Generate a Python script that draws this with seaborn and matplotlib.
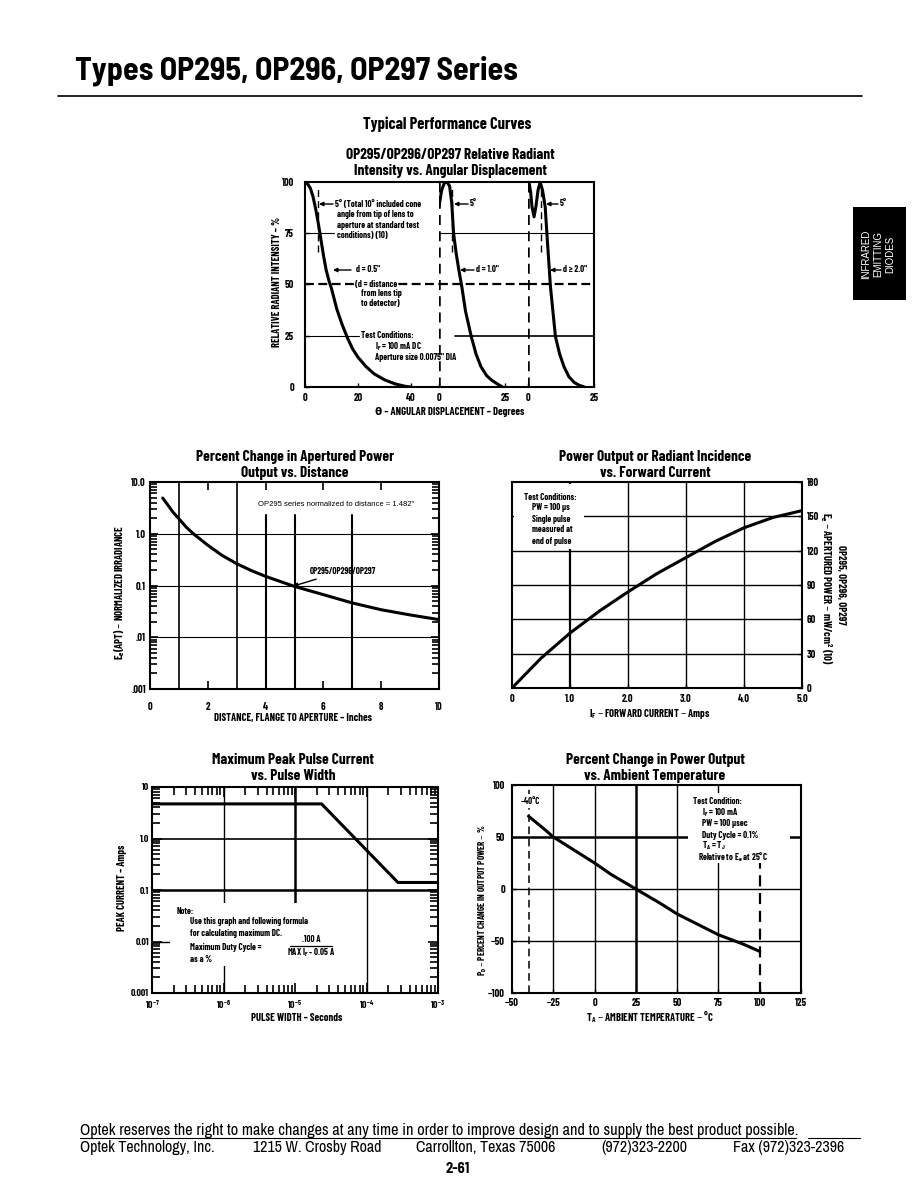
import numpy as np
import matplotlib
matplotlib.use("Agg")
import matplotlib.pyplot as plt
import seaborn as sns
from matplotlib.patches import Rectangle
from matplotlib.lines import Line2D
from matplotlib.ticker import LogLocator, NullFormatter

W, H = 918, 1188
FONT = ["Barlow Condensed", "DejaVu Sans"]
TITLE_FONT = ["Barlow Semi Condensed", "DejaVu Sans"]
FOOT_FONT = ["Archivo Narrow", "Liberation Sans", "DejaVu Sans"]
PLAIN = ["Liberation Sans", "DejaVu Sans"]

# relative radiant intensity vs angular displacement, one series per distance
angle_d05 = [0, 1, 2, 3, 4, 5, 6, 7, 8, 9, 10, 12, 14, 16, 18, 20, 23, 26, 30, 34, 38, 40]
intensity_d05 = [100, 99, 97, 93, 87, 80, 72, 64, 57, 52, 48, 38, 30.5, 24, 18.5, 14.5,
                 10, 6.5, 3.5, 1.5, 0.3, 0]
angle_d10 = [0, 1, 2, 3, 4, 4.8, 5.5, 6.5, 7.5, 8.6, 10, 12.2, 14, 15.8, 18, 20, 22, 24]
intensity_d10 = [88, 96, 99.5, 100, 98, 90, 75, 65, 57, 49, 37, 24.5, 16, 10, 5.5, 3.2, 1.5, 0]
angle_d20 = [0, 0.5, 1, 1.5, 2.3, 3, 3.8, 4.6, 5.5, 6.5, 7.2, 8.5, 10.4, 12, 13.6, 15.5,
             17.5, 19.5, 21.3]
intensity_d20 = [100, 99, 95, 88, 83, 88, 96, 100, 96, 88, 74, 49, 24.5, 16, 10, 5, 2.2, 0.8, 0]
CONE_HALF_ANGLE = 5

# normalized irradiance vs distance
distance_in = [0.44, 0.6, 0.8, 1.0, 1.25, 1.5, 2.0, 2.5, 3.0, 3.5, 4.0, 5.0, 6.0, 7.0, 8.0, 9.0, 10.0]
irradiance = [4.9, 3.7, 2.6, 1.95, 1.35, 1.0, 0.6, 0.38, 0.264, 0.195, 0.150, 0.096,
              0.0665, 0.046, 0.034, 0.027, 0.0219]

# apertured power vs forward current
forward_current = [0, 0.25, 0.5, 0.75, 1.0, 1.5, 2.0, 2.5, 3.0, 3.5, 4.0, 4.5, 5.0]
apertured_power = [0, 13, 26, 37, 48, 67, 84, 100, 114, 128, 140, 149, 155]

# maximum peak pulse current vs pulse width
pulse_width = [1e-7, 2.35e-5, 2.75e-4, 1e-3]
peak_current = [4.7, 4.7, 0.14, 0.14]

# percent change in output power vs ambient temperature
temperature = [-40, -30, -25, -10, 0, 10, 25, 40, 50, 60, 75, 90, 100]
power_change = [70, 57, 50, 35, 25, 14, 0, -14, -24, -32, -44, -53, -60]

sns.set_theme(style="ticks")
plt.rcParams["font.family"] = FONT
plt.rcParams["font.weight"] = "bold"
plt.rcParams["axes.labelweight"] = "bold"
plt.rcParams["mathtext.default"] = "regular"
for key in ["text.color", "axes.labelcolor", "xtick.color", "ytick.color", "axes.edgecolor"]:
    plt.rcParams[key] = "black"
plt.rcParams["axes.linewidth"] = 1.5

fig = plt.figure(figsize=(W / 100, H / 100), dpi=100)

TITLE_SIZE = 11
TICK_SIZE = 7.5
LABEL_SIZE = 7.6
NOTE_SIZE = 6.4


def rect(box):
    x0, y0, x1, y1 = box
    return [x0 / W, 1 - y1 / H, (x1 - x0) / W, (y1 - y0) / H]


def frac(box, x, y):
    x0, y0, x1, y1 = box
    return (x - x0) / (x1 - x0), (y1 - y) / (y1 - y0)


def ftext(x, y, s, size=NOTE_SIZE, **kw):
    kw.setdefault("va", "center")
    return fig.text(x / W, 1 - y / H, s, size=size, **kw)


def curve(ax, x, y):
    sns.lineplot(x=x, y=y, ax=ax, color="black", linewidth=2.2, errorbar=None)


def pointer(ax, x_from, x_to, y):
    ax.annotate("", xy=(x_to, H - y), xytext=(x_from, H - y), xycoords="figure pixels",
                arrowprops=dict(arrowstyle="-|>", color="black", lw=1, mutation_scale=6,
                                shrinkA=0, shrinkB=0), annotation_clip=False)


def set_labels(ax, box, xlabel, xpos, ylabel, ypos, size=LABEL_SIZE, ysize=None):
    ax.set_xlabel(xlabel, fontsize=size, va="center")
    ax.xaxis.set_label_coords(*frac(box, *xpos))
    ax.set_ylabel(ylabel, fontsize=ysize or size, va="center")
    ax.yaxis.set_label_coords(*frac(box, *ypos))


def white_box(ax, box, x0, y0, x1, y1):
    fx0, fy1 = frac(box, x0, y0)
    fx1, fy0 = frac(box, x1, y1)
    ax.add_patch(Rectangle((fx0, fy0), fx1 - fx0, fy1 - fy0, transform=ax.transAxes,
                           facecolor="white", edgecolor="none", zorder=2.5))


def chart_title(x, y, lines):
    for k, line in enumerate(lines):
        ftext(x, y + k * 16, line, size=TITLE_SIZE, ha="center")


def plot_angular():
    ftext(447, 124, "Typical Performance Curves", size=11.8, ha="center")
    chart_title(450, 155, ["OP295/OP296/OP297 Relative Radiant",
                           "Intensity vs. Angular Displacement"])
    deg_px = 2.65
    panels = [(305, 439, angle_d05, intensity_d05, [0, 20, 40]),
              (439, 528, angle_d10, intensity_d10, [0, 25]),
              (528, 594, angle_d20, intensity_d20, [0, 25])]
    axes = []
    for i, (x0, x1, ang, rel, xt) in enumerate(panels):
        box = (x0, 182, x1, 387)
        ax = fig.add_axes(rect(box))
        ax.set_facecolor("none")
        curve(ax, ang, rel)
        ax.set_xlim(0, (x1 - x0) / deg_px)
        ax.set_ylim(0, 100)
        ax.set_xticks(xt)
        ax.set_xticklabels([str(t) for t in xt])
        ax.tick_params(axis="x", direction="in", length=3, width=1, labelsize=TICK_SIZE, pad=4)
        ax.axhline(50, color="black", lw=1.6, ls=(0, (4, 2)))
        ax.axvline(CONE_HALF_ANGLE, ymin=0.66, ymax=0.97, color="black", lw=1, ls=(0, (5, 3)))
        if i == 0:
            ax.spines["right"].set_visible(False)
            ax.set_yticks([0, 25, 50, 75, 100])
            ax.tick_params(axis="y", direction="in", length=3, width=1, labelsize=TICK_SIZE,
                           pad=8)
            ax.axhline(75, xmax=0.22, color="black", lw=0.8)
            ax.axhline(25, xmax=0.4, color="black", lw=0.8)
            set_labels(ax, box, "θ – ANGULAR DISPLACEMENT – Degrees", (450, 412),
                       "RELATIVE RADIANT INTENSITY – %", (277, 282))
        else:
            ax.spines["left"].set_visible(False)
            if i == 1:
                ax.spines["right"].set_visible(False)
            ax.set_yticks([])
            ax.set_xlabel("")
            ax.set_ylabel("")
            ax.axvline(0, color="black", lw=1.8, ls=(0, (4, 2.5)))
            ax.axhline(75, color="black", lw=0.8)
            ax.axhline(25, xmin=0.18 if i == 1 else 0, color="black", lw=1.2)
        axes.append(ax)

    a0 = axes[0]
    pointer(a0, 333, 319, 204)
    note = ["5° (Total 10° included cone", "angle from tip of lens to",
            "aperture at standard test", "conditions) (10)"]
    for k, line in enumerate(note):
        ftext(335 if k == 0 else 337, 204 + k * 10.6, line, ha="left")
    pointer(a0, 351, 333, 270)
    ftext(356, 270, 'd = 0.5"', ha="left")
    ftext(355, 284, "(d = distance", ha="left",
          bbox=dict(facecolor="white", edgecolor="none", pad=0.8))
    ftext(361, 294, "from lens tip", ha="left")
    ftext(361, 304, "to detector)", ha="left")
    ftext(361, 336, "Test Conditions:", ha="left")
    ftext(375, 347, "I$_F$ = 100 mA DC", ha="left")
    ftext(375, 358, 'Aperture size 0.0075" DIA', ha="left")
    pointer(axes[1], 468, 454, 204)
    ftext(470, 204, "5°", ha="left")
    pointer(axes[1], 474, 460, 270)
    ftext(476, 270, 'd = 1.0"', ha="left")
    pointer(axes[2], 558, 546, 204)
    ftext(560, 204, "5°", ha="left")
    pointer(axes[2], 561, 550, 270)
    ftext(563, 270, 'd ≥ 2.0"', ha="left")


def plot_distance():
    box = (150, 482, 439, 689)
    chart_title(295, 457, ["Percent Change in Apertured Power", "Output vs. Distance"])
    ax = fig.add_axes(rect(box))
    curve(ax, distance_in, irradiance)
    ax.set_yscale("log")
    ax.set_xlim(0, 10)
    ax.set_ylim(0.001, 10)
    ax.set_xticks([0, 2, 4, 6, 8, 10])
    ax.set_xticklabels(["0", "2", "4", "6", "8", "10"])
    ax.set_yticks([0.001, 0.01, 0.1, 1, 10])
    ax.set_yticklabels([".001", ".01", "0.1", "1.0", "10.0"])
    ax.yaxis.set_minor_locator(LogLocator(subs=np.arange(2, 10)))
    ax.yaxis.set_minor_formatter(NullFormatter())
    for v in [1, 3]:
        ax.axvline(v, color="black", lw=1.2)
    for v in [4, 5, 7]:
        ax.axvline(v, ymax=0.84, color="black", lw=1.5)
    for v in [0.01, 0.1, 1]:
        ax.axhline(v, color="black", lw=0.8)
    ax.tick_params(which="both", direction="in", left=True, right=True, top=True,
                   bottom=True, labelsize=TICK_SIZE)
    ax.tick_params(which="major", length=6, width=1.2)
    ax.tick_params(which="minor", length=5, width=1.2)
    ax.tick_params(axis="x", pad=9)
    ax.tick_params(axis="y", pad=3)
    set_labels(ax, box, "DISTANCE, FLANGE TO APERTURE – Inches", (293, 718),
               "E$_e$(APT) – NORMALIZED IRRADIANCE", (120, 592))
    ftext(258, 505, 'OP295 series normalized to distance = 1.482"', size=5.5,
          ha="left", fontweight="normal", family=PLAIN)
    ax.annotate("OP295/OP296/OP297", xy=(4.95, 0.097), xytext=(310, H - 571),
                textcoords="figure pixels", fontsize=NOTE_SIZE, ha="left", va="center",
                arrowprops=dict(arrowstyle="-|>", color="black", lw=1, mutation_scale=6,
                                shrinkA=1, shrinkB=0))


def plot_current():
    box = (512, 482, 802, 688)
    chart_title(655, 457, ["Power Output or Radiant Incidence", "vs. Forward Current"])
    ax = fig.add_axes(rect(box))
    curve(ax, forward_current, apertured_power)
    ax.set_xlim(0, 5)
    ax.set_ylim(0, 180)
    ax.set_xticks([0, 1, 2, 3, 4, 5])
    ax.set_xticklabels(["0", "1.0", "2.0", "3.0", "4.0", "5.0"])
    ax.yaxis.tick_right()
    ax.set_yticks([0, 30, 60, 90, 120, 150, 180])
    ax.axvline(1, color="black", lw=1.6)
    for v in [2, 3, 4]:
        ax.axvline(v, color="black", lw=1)
    for v in [30, 60, 90, 120, 150]:
        ax.axhline(v, color="black", lw=1)
    white_box(ax, box, 514, 484, 584, 549)
    ax.tick_params(direction="in", length=3, width=1, labelsize=TICK_SIZE)
    ax.tick_params(axis="x", pad=4.5)
    ax.tick_params(axis="y", pad=3.4)
    ax.yaxis.set_label_position("right")
    ax.set_xlabel("I$_F$ – FORWARD CURRENT – Amps", fontsize=LABEL_SIZE, va="center")
    ax.xaxis.set_label_coords(*frac(box, 650, 714))
    ax.set_ylabel("E$_e$ – APERTURED POWER – mW/cm$^2$ (10)", fontsize=LABEL_SIZE,
                  rotation=270, va="center")
    ax.yaxis.set_label_coords(*frac(box, 826, 588))
    ftext(841, 585, "OP295, OP296, OP297", size=LABEL_SIZE, rotation=270, ha="center")
    ftext(524, 497, "Test Conditions:", ha="left")
    for k, line in enumerate(["PW = 100 µs", "Single pulse", "measured at", "end of pulse"]):
        ftext(532, 508 + k * 11, line, ha="left")


def plot_pulse():
    box = (152, 787, 438, 993)
    chart_title(293, 760, ["Maximum Peak Pulse Current", "vs. Pulse Width"])
    ax = fig.add_axes(rect(box))
    curve(ax, pulse_width, peak_current)
    ax.set_xscale("log")
    ax.set_yscale("log")
    ax.set_xlim(1e-7, 1e-3)
    ax.set_ylim(1e-3, 10)
    ax.set_xticks([1e-7, 1e-6, 1e-5, 1e-4, 1e-3])
    ax.set_xticklabels(["10$^{-7}$", "10$^{-6}$", "10$^{-5}$", "10$^{-4}$", "10$^{-3}$"])
    ax.set_yticks([1e-3, 1e-2, 1e-1, 1, 10])
    ax.set_yticklabels(["0.001", "0.01", "0.1", "1.0", "10"])
    for axis in [ax.xaxis, ax.yaxis]:
        axis.set_minor_locator(LogLocator(subs=np.arange(2, 10)))
        axis.set_minor_formatter(NullFormatter())
    ax.axvline(1e-6, color="black", lw=1)
    ax.axvline(1e-5, ymin=0.39, color="black", lw=1.8)
    ax.axvline(1e-4, color="black", lw=1)
    ax.axhline(1, color="black", lw=1.2)
    ax.axhline(0.1, color="black", lw=1.8)
    ax.axhline(0.01, xmax=0.08, color="black", lw=1)
    white_box(ax, box, 170, 903, 345, 966)
    ax.tick_params(which="both", direction="in", left=True, right=True, top=True,
                   bottom=True, labelsize=TICK_SIZE - 0.5)
    ax.tick_params(which="major", length=7, width=1.2)
    ax.tick_params(which="minor", length=6, width=1.2)
    ax.tick_params(axis="x", pad=3.6)
    ax.tick_params(axis="y", pad=2)
    set_labels(ax, box, "PULSE WIDTH – Seconds", (297, 1018),
               "PEAK CURRENT – Amps", (122, 888))
    ftext(177, 911, "Note:", ha="left")
    ftext(190, 922, "Use this graph and following formula", ha="left")
    ftext(190, 933, "for calculating maximum DC.", ha="left")
    ftext(190, 947, "Maximum Duty Cycle =", ha="left")
    ftext(311, 940, ".100 A", ha="center")
    fig.add_artist(Line2D([290 / W, 332 / W], [1 - 946 / H] * 2, color="black", lw=0.9))
    ftext(311, 953, "MAX I$_F$ - 0.05 A", ha="center")
    ftext(190, 959, "as a %", ha="left")


def plot_temperature():
    box = (512, 785, 801, 993)
    chart_title(655, 760, ["Percent Change in Power Output", "vs. Ambient Temperature"])
    ax = fig.add_axes(rect(box))
    curve(ax, temperature, power_change)
    ax.set_xlim(-50, 125)
    ax.set_ylim(-100, 100)
    xt = [-50, -25, 0, 25, 50, 75, 100, 125]
    ax.set_xticks(xt)
    ax.set_xticklabels([str(t).replace("-", "−") for t in xt])
    yt = [-100, -50, 0, 50, 100]
    ax.set_yticks(yt)
    ax.set_yticklabels([str(t).replace("-", "−") for t in yt])
    for v in [-25, 0, 50, 75]:
        ax.axvline(v, color="black", lw=1)
    ax.axvline(25, color="black", lw=1.8)
    ax.axhline(0, color="black", lw=1)
    ax.axhline(-50, color="black", lw=1)
    ax.axhline(50, xmax=0.616, color="black", lw=1.8)
    ax.axhline(50, xmin=0.95, color="black", lw=1.8)
    ax.axvline(-40, color="black", lw=1.1, ls=(0, (5, 3)))
    ax.axvline(100, ymax=0.63, color="black", lw=1.6, ls=(0, (5, 3)))
    white_box(ax, box, 688, 793, 790, 863)
    ax.tick_params(direction="in", length=3, width=1, labelsize=TICK_SIZE)
    ax.tick_params(axis="x", pad=3.6)
    ax.tick_params(axis="y", pad=5)
    set_labels(ax, box, "T$_A$ – AMBIENT TEMPERATURE – °C", (650, 1017),
               "P$_D$ – PERCENT CHANGE IN OUTPUT POWER – %", (483, 900), ysize=6.6)
    ftext(530, 801, "−40°C", ha="center",
          bbox=dict(facecolor="white", edgecolor="none", pad=1.5))
    ftext(693, 801, "Test Condition:", ha="left")
    cond = ["I$_F$ = 100 mA", "PW = 100 µsec", "Duty Cycle = 0.1%", "T$_A$ = T$_J$",
            "Relative to E$_e$ at 25°C"]
    for k, line in enumerate(cond):
        ftext(702 if k < 4 else 698, 813 + k * 11, line, ha="left")


# page furniture
ftext(75, 71, "Types OP295, OP296, OP297 Series", size=23, ha="left", family=TITLE_FONT)
fig.add_artist(Line2D([58 / W, 862 / W], [1 - 96 / H] * 2, color="black", lw=1.2))
fig.add_artist(Rectangle((853 / W, 1 - 300 / H), 53 / W, 93 / H, transform=fig.transFigure,
                         facecolor="black", edgecolor="none"))
for xpos, word in zip([866, 878, 890], ["INFRARED", "EMITTING", "DIODES"]):
    ftext(xpos, 254, word, size=7, rotation=90, ha="center", color="white",
          family=PLAIN, fontweight="normal")

plot_angular()
plot_distance()
plot_current()
plot_pulse()
plot_temperature()

ftext(80, 1135, "Optek reserves the right to make changes at any time in order to improve "
      "design and to supply the best product possible.", size=11.7, ha="left",
      fontweight="normal", family=FOOT_FONT, va="baseline")
fig.add_artist(Line2D([80 / W, 796 / W], [1 - 1137.5 / H] * 2, color="black", lw=0.8))
fig.add_artist(Line2D([808 / W, 860 / W], [1 - 1137.5 / H] * 2, color="black", lw=0.8))
footer = [(80, "Optek Technology, Inc."), (253, "1215 W. Crosby Road"),
          (416, "Carrollton, Texas 75006"), (601, "(972)323-2200"),
          (733, "Fax (972)323-2396")]
for xpos, txt in footer:
    ftext(xpos, 1152, txt, size=11.5, ha="left", fontweight="normal", family=FOOT_FONT,
          va="baseline")
ftext(458, 1173, "2-61", size=10.5, ha="center", family=TITLE_FONT, va="baseline")

fig.savefig("out.png", dpi=100)
